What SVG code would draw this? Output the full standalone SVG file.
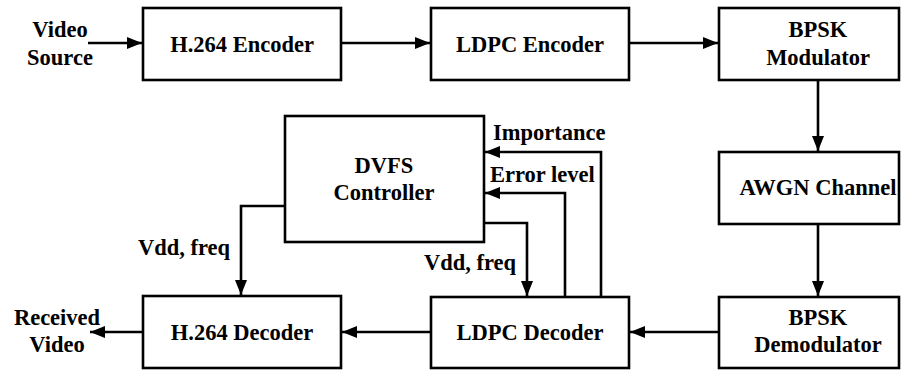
<svg xmlns="http://www.w3.org/2000/svg" width="910" height="370" viewBox="0 0 910 370">
<defs>
<marker id="a" markerUnits="userSpaceOnUse" markerWidth="16" markerHeight="12" refX="15" refY="6" orient="auto">
<path d="M0,0 L15,6 L0,12 Z" fill="#000"/>
</marker>
</defs>
<g id="connectors" fill="none" stroke="#000" stroke-width="2.6">
<path d="M88,43 H142" marker-end="url(#a)"/>
<path d="M341,43 H430" marker-end="url(#a)"/>
<path d="M629,43 H718" marker-end="url(#a)"/>
<path d="M818,80 V151" marker-end="url(#a)"/>
<path d="M818,224 V296" marker-end="url(#a)"/>
<path d="M719,332 H630" marker-end="url(#a)"/>
<path d="M431,332 H342" marker-end="url(#a)"/>
<path d="M143,332 H90" marker-end="url(#a)"/>
<path d="M601,297 V152 H485" marker-end="url(#a)"/>
<path d="M565,297 V193 H485" marker-end="url(#a)"/>
<path d="M484,223 H527 V296" marker-end="url(#a)"/>
<path d="M285,206 H241 V295" marker-end="url(#a)"/>
</g>
<g id="video-source"><text font-family="'Times New Roman', 'Liberation Serif', serif" font-weight="bold" font-size="22.5" text-anchor="middle" x="60" y="37">Video</text><text font-family="'Times New Roman', 'Liberation Serif', serif" font-weight="bold" font-size="22.5" text-anchor="middle" x="60" y="65">Source</text></g>
<g id="h264-encoder"><rect fill="#fff" stroke="#000" stroke-width="2.6" x="143" y="8" width="198" height="72"/><text font-family="'Times New Roman', 'Liberation Serif', serif" font-weight="bold" font-size="22.5" text-anchor="middle" x="242" y="52">H.264 Encoder</text></g>
<g id="ldpc-encoder"><rect fill="#fff" stroke="#000" stroke-width="2.6" x="431" y="8" width="198" height="72"/><text font-family="'Times New Roman', 'Liberation Serif', serif" font-weight="bold" font-size="22.5" text-anchor="middle" x="530" y="52">LDPC Encoder</text></g>
<g id="bpsk-modulator"><rect fill="#fff" stroke="#000" stroke-width="2.6" x="719" y="8" width="180" height="72"/><text font-family="'Times New Roman', 'Liberation Serif', serif" font-weight="bold" font-size="22.5" text-anchor="middle" x="818" y="37">BPSK</text><text font-family="'Times New Roman', 'Liberation Serif', serif" font-weight="bold" font-size="22.5" text-anchor="middle" x="818" y="65">Modulator</text></g>
<g id="awgn-channel"><rect fill="#fff" stroke="#000" stroke-width="2.6" x="719" y="152" width="180" height="72"/><text font-family="'Times New Roman', 'Liberation Serif', serif" font-weight="bold" font-size="22.5" text-anchor="middle" x="818" y="195">AWGN Channel</text></g>
<g id="bpsk-demodulator"><rect fill="#fff" stroke="#000" stroke-width="2.6" x="719" y="297" width="180" height="71"/><text font-family="'Times New Roman', 'Liberation Serif', serif" font-weight="bold" font-size="22.5" text-anchor="middle" x="818" y="325">BPSK</text><text font-family="'Times New Roman', 'Liberation Serif', serif" font-weight="bold" font-size="22.5" text-anchor="middle" x="818" y="352">Demodulator</text></g>
<g id="ldpc-decoder"><rect fill="#fff" stroke="#000" stroke-width="2.6" x="431" y="297" width="198" height="71"/><text font-family="'Times New Roman', 'Liberation Serif', serif" font-weight="bold" font-size="22.5" text-anchor="middle" x="530" y="340">LDPC Decoder</text></g>
<g id="h264-decoder"><rect fill="#fff" stroke="#000" stroke-width="2.6" x="143" y="296" width="198" height="72"/><text font-family="'Times New Roman', 'Liberation Serif', serif" font-weight="bold" font-size="22.5" text-anchor="middle" x="242" y="340">H.264 Decoder</text></g>
<g id="received-video"><text font-family="'Times New Roman', 'Liberation Serif', serif" font-weight="bold" font-size="22.5" text-anchor="middle" x="57" y="325">Received</text><text font-family="'Times New Roman', 'Liberation Serif', serif" font-weight="bold" font-size="22.5" text-anchor="middle" x="57" y="352">Video</text></g>
<g id="dvfs-controller"><rect fill="#fff" stroke="#000" stroke-width="2.6" x="285" y="116" width="199" height="126"/><text font-family="'Times New Roman', 'Liberation Serif', serif" font-weight="bold" font-size="22.5" text-anchor="middle" x="384" y="173">DVFS</text><text font-family="'Times New Roman', 'Liberation Serif', serif" font-weight="bold" font-size="22.5" text-anchor="middle" x="384" y="200">Controller</text></g>
<g id="labels">
<text font-family="'Times New Roman', 'Liberation Serif', serif" font-weight="bold" font-size="22.5" x="493" y="140">Importance</text>
<text font-family="'Times New Roman', 'Liberation Serif', serif" font-weight="bold" font-size="22.5" x="490" y="182">Error level</text>
<text font-family="'Times New Roman', 'Liberation Serif', serif" font-weight="bold" font-size="22.5" text-anchor="middle" x="470" y="270">Vdd, freq</text>
<text font-family="'Times New Roman', 'Liberation Serif', serif" font-weight="bold" font-size="22.5" text-anchor="middle" x="184" y="255">Vdd, freq</text>
</g>
</svg>
